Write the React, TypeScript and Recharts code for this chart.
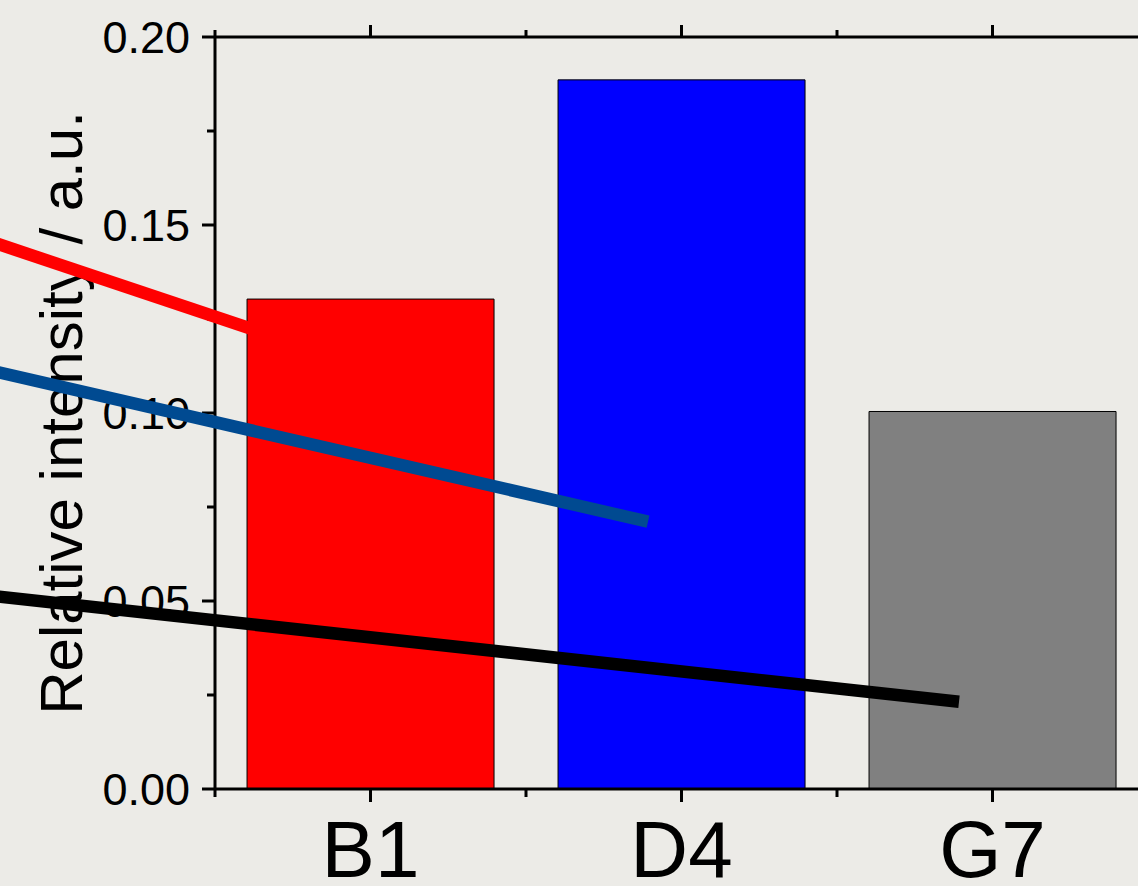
import React from 'react';
import { ComposedChart, Bar, Cell, XAxis, YAxis, ReferenceLine } from 'recharts';

const categories = ['B1', 'D4', 'G7'];
const intensity = [0.1303, 0.1886, 0.1004];
const barColors = ['#ff0000', '#0000ff', '#808080'];

const yTicks = [0, 0.05, 0.1, 0.15, 0.2];
const yMinorTicks = [0.025, 0.075, 0.125, 0.175];
const xMajorTicks = [0.5, 1.5, 2.5];
const xMinorTicks = [0, 1, 2, 3];

// pointer lines coming in from the left; x in band units (0 = left axis), y in a.u.
const pointerColors = ['#ff0000', '#004a91', '#000000'];
const pointerStartX = [-0.7, -0.7, -0.7];
const pointerStartY = [0.145, 0.1109, 0.0512];
const pointerEndX = [0.3955, 1.3923, 2.3923];
const pointerEndY = [0.1147, 0.0711, 0.0232];

// pos = centre of each category band on the helper number axes
const data = categories.map((name, i) => ({ name, pos: i + 0.5, value: intensity[i] }));

const FONT = '"Liberation Sans", Arial, sans-serif';
const AXIS = { stroke: '#000', strokeWidth: 3 };

// helper axes only draw tick marks, no labels
const NoLabel = () => <g />;

const YTitle = (props: any) => {
  const vb = props.viewBox || { x: 214, y: 37, width: 1, height: 752 };
  const cx = 82;
  const cy = vb.y + vb.height / 2;
  return (
    <text
      x={cx}
      y={cy}
      transform={`rotate(-90 ${cx} ${cy})`}
      textAnchor="middle"
      fontSize={60}
      fontFamily={FONT}
      fill="#000"
    >
      Relative intensity / a.u.
    </text>
  );
};

export default function App() {
  return (
    <div
      style={{
        position: 'absolute',
        left: 0,
        top: 0,
        width: 1138,
        height: 886,
        overflow: 'hidden',
        background: '#ecebe7',
      }}
    >
      <ComposedChart
        width={1160}
        height={886}
        data={data}
        margin={{ top: 35, right: 11, bottom: 95, left: 213 }}
        barCategoryGap="10.3%"
      >
        <XAxis
          dataKey="name"
          height={1}
          axisLine={AXIS}
          tickLine={AXIS}
          tickSize={13}
          tickMargin={18}
          tick={{ fill: '#000', fontSize: 80, fontFamily: FONT }}
          interval={0}
        />
        <XAxis
          xAxisId="num"
          dataKey="pos"
          type="number"
          domain={[0, 3]}
          ticks={xMinorTicks}
          interval={0}
          height={1}
          axisLine={false}
          tickLine={AXIS}
          tickSize={7}
          tick={NoLabel}
        />
        <XAxis
          xAxisId="top"
          dataKey="pos"
          orientation="top"
          type="number"
          domain={[0, 3]}
          ticks={xMajorTicks}
          interval={0}
          height={1}
          axisLine={AXIS}
          tickLine={AXIS}
          tickSize={12}
          tick={NoLabel}
        />
        <XAxis
          xAxisId="topMinor"
          dataKey="pos"
          orientation="top"
          type="number"
          domain={[0, 3]}
          ticks={xMinorTicks}
          interval={0}
          height={1}
          axisLine={false}
          tickLine={AXIS}
          tickSize={6}
          tick={NoLabel}
        />
        <YAxis
          domain={[0, 0.2]}
          ticks={yTicks}
          width={1}
          axisLine={AXIS}
          tickLine={AXIS}
          tickSize={13}
          tickMargin={12}
          tick={{ fill: '#000', fontSize: 45, fontFamily: FONT }}
          tickFormatter={(v: number) => v.toFixed(2)}
          interval={0}
          label={{ content: YTitle }}
        />
        <YAxis
          yAxisId="minor"
          dataKey="value"
          domain={[0, 0.2]}
          ticks={yMinorTicks}
          interval={0}
          width={1}
          axisLine={false}
          tickLine={AXIS}
          tickSize={7}
          tick={NoLabel}
        />
        <YAxis
          yAxisId="right"
          dataKey="value"
          orientation="right"
          domain={[0, 0.2]}
          ticks={yTicks}
          width={1}
          axisLine={AXIS}
          tickLine={false}
          tick={NoLabel}
        />
        <Bar dataKey="value" stroke="#000" strokeWidth={1} isAnimationActive={false}>
          {data.map((d, i) => (
            <Cell key={d.name} fill={barColors[i]} />
          ))}
        </Bar>
        {pointerColors.map((c, i) => (
          <ReferenceLine
            key={c}
            xAxisId="num"
            segment={[
              { x: pointerStartX[i], y: pointerStartY[i] },
              { x: pointerEndX[i], y: pointerEndY[i] },
            ]}
            stroke={c}
            strokeWidth={12.5}
            ifOverflow="visible"
            zIndex={2000}
          />
        ))}
      </ComposedChart>
    </div>
  );
}
